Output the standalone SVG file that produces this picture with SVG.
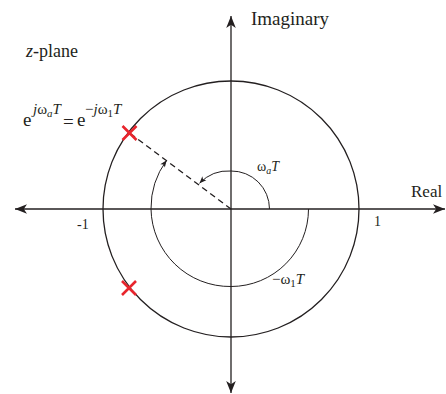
<svg xmlns="http://www.w3.org/2000/svg" width="446" height="394" viewBox="0 0 446 394" font-family="'Liberation Serif', 'Times New Roman', Times, serif">
<style>
text{font-family:'Liberation Serif','Times New Roman',Times,serif;fill:#231f20}
.it{font-style:italic}
.ln{fill:none;stroke:#231f20;stroke-width:1.3}
.thin{fill:none;stroke:#231f20;stroke-width:1}
.x{stroke:#e8252d;stroke-width:2.6;fill:none}
</style>
<defs>
<marker id="big" viewBox="-1 -6 14 12" refX="12" refY="0" markerWidth="14" markerHeight="12" markerUnits="userSpaceOnUse" orient="auto-start-reverse">
<path d="M0,-4.8 L12,0 L0,4.8 L3.2,0 Z" fill="#231f20"/>
</marker>
<marker id="small" viewBox="-1 -4 9 8" refX="7" refY="0" markerWidth="9" markerHeight="8" markerUnits="userSpaceOnUse" orient="auto">
<path d="M0,-2.8 L7,0 L0,2.8 L1.8,0 Z" fill="#231f20"/>
</marker>
</defs>
<g id="axes">
<line class="ln" x1="15" y1="209" x2="445" y2="209" marker-start="url(#big)" marker-end="url(#big)"/>
<line class="ln" x1="231" y1="393" x2="231" y2="16" marker-start="url(#big)" marker-end="url(#big)"/>
</g>
<g id="unit-circle">
<circle class="ln" cx="231" cy="209" r="128"/>
</g>
<g id="connectors">
<line x1="231" y1="209" x2="129" y2="132.5" stroke="#231f20" stroke-width="1.3" stroke-dasharray="6,4"/>
<path class="thin" d="M269.5,209 A38,38 0 0 0 231,171 A40,40 0 0 0 199.5,183.3" marker-end="url(#small)"/>
<path class="thin" d="M308.5,209 A77.5,77.5 0 0 1 231,286.5 A79,79 0 0 1 151,209 A80.8,80.8 0 0 1 166.7,160.2" marker-end="url(#small)"/>
</g>
<g id="poles">
<path class="x" d="M122.5,126 L136.5,140 M136.5,126 L122.5,140"/>
<path class="x" d="M122,281 L136,295 M136,281 L122,295"/>
</g>
<g id="labels">
<text x="251" y="25" font-size="19">Imaginary</text>
<text x="411" y="197" font-size="17">Real</text>
<text x="26" y="57" font-size="18"><tspan class="it">z</tspan>-plane</text>
<text x="77" y="229" font-size="14">-1</text>
<text x="374" y="226" font-size="14">1</text>
<text x="257" y="171" font-size="14">ω<tspan class="it" font-size="10" dy="3">a</tspan><tspan class="it" dy="-3">T</tspan></text>
<text x="272" y="284" font-size="15">−ω<tspan font-size="11" dy="3">1</tspan><tspan class="it" dy="-3">T</tspan></text>
<text x="23" y="126" font-size="19">e</text>
<text x="33" y="114" font-size="15"><tspan class="it">j</tspan>ω<tspan class="it" font-size="11" dy="3">a</tspan><tspan class="it" dy="-3">T</tspan></text>
<text x="63" y="128" font-size="19">=</text>
<text x="77" y="126" font-size="19">e</text>
<text x="85" y="114" font-size="15">−<tspan class="it">j</tspan>ω<tspan font-size="11" dy="3">1</tspan><tspan class="it" dy="-3">T</tspan></text>
</g>
</svg>
